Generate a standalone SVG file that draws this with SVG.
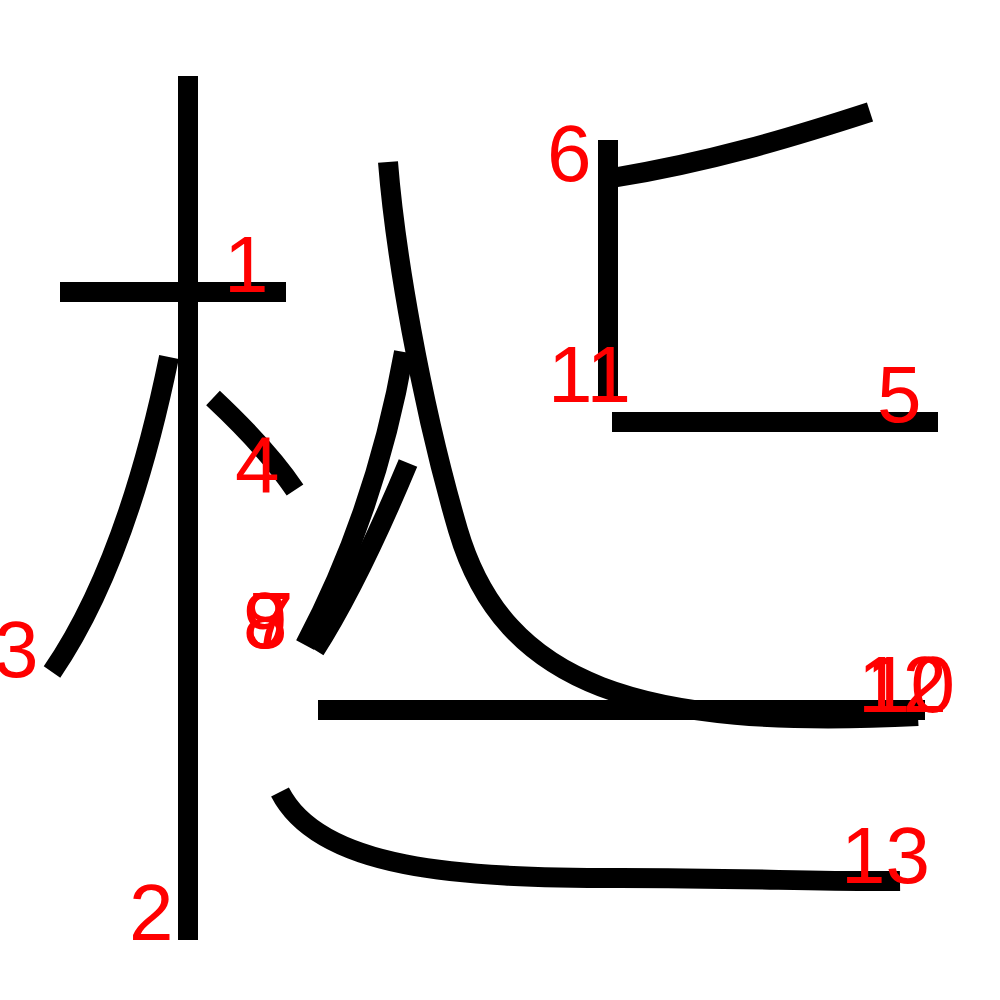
<svg xmlns="http://www.w3.org/2000/svg" width="1000" height="1000" viewBox="0 0 1000 1000">
<style>
.s{fill:none;stroke:#000;stroke-width:20;stroke-linecap:butt;stroke-linejoin:round}
.n{fill:#f00;font-family:"Liberation Sans",Arial,Helvetica,sans-serif;font-size:80px}
</style>
<rect width="1000" height="1000" fill="#fff"/>
<g id="strokes">
<g id="s1"><path class="s" d="M60,292 L286,292"/></g>
<g id="s2"><path class="s" d="M188,76 L188,940"/></g>
<g id="s3"><path class="s" d="M169,357 C150,450 115,580 52,672"/></g>
<g id="s4"><path class="s" d="M213,398 C245,428 275,460 295,490"/></g>
<g id="s5"><path class="s" d="M612,422 L938,422"/></g>
<g id="s6"><path class="s" d="M870,112 C790,138 710,162 612,178"/></g>
<g id="s7"><path class="s" d="M404,352 C385,460 350,560 305,645"/></g>
<g id="s8"><path class="s" d="M408,463 C380,530 350,595 315,650"/></g>
<g id="s10"><path class="s" d="M388,162 C395,250 420,400 458,530 C504,686 640,730 918,716"/></g>
<g id="s11"><path class="s" d="M608,140 L608,402"/></g>
<g id="s12"><path class="s" d="M318,710 L925,710"/></g>
<g id="s13"><path class="s" d="M280,792 C320,870 460,878 620,878 C750,878 820,882 900,881"/></g>
</g>
<g id="labels">
<text class="n" x="224" y="292">1</text>
<text class="n" x="129" y="940">2</text>
<text class="n" x="-6" y="677">3</text>
<text class="n" x="235" y="492">4</text>
<text class="n" x="877" y="422">5</text>
<text class="n" x="547" y="181">6</text>
<text class="n" x="249" y="648">7</text>
<text class="n" x="243" y="648">8</text>
<text class="n" x="243" y="648">9</text>
<text class="n" x="866" y="712">10</text>
<text class="n" x="548" y="402">11</text>
<text class="n" x="858" y="712">12</text>
<text class="n" x="841" y="883">13</text>
</g>
</svg>
